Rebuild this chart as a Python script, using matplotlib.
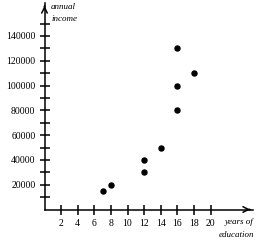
import matplotlib.pyplot as plt

years = [7, 8, 12, 12, 14, 16, 16, 16, 18]
income = [15000, 20000, 30000, 40000, 50000, 80000, 100000, 130000, 110000]
x_ticks = [2, 4, 6, 8, 10, 12, 14, 16, 18, 20]
y_major = [20000, 40000, 60000, 80000, 100000, 120000, 140000]
y_minor = [10000, 30000, 50000, 70000, 90000, 110000, 130000, 150000]

plt.rcParams['font.family'] = 'Liberation Serif'

fig = plt.figure(figsize=(2.56, 2.5), dpi=100)
ax = fig.add_axes([44.5 / 256, 40.5 / 250, (253 - 44.5) / 256, (209.5 - 3) / 250])

ax.scatter(years, income, s=13, color='black', zorder=3)

ax.set_xlim(0, (253 - 44.5) / 8.3)
ax.set_ylim(0, (209.5 - 3) / 12.4 * 10000)

for s in ['top', 'right']:
    ax.spines[s].set_visible(False)
for s in ['left', 'bottom']:
    ax.spines[s].set_linewidth(1.1)

ax.set_xticks(x_ticks)
ax.set_xticklabels([str(v) for v in x_ticks])
ax.set_yticks(y_major)
ax.set_yticklabels([str(v) for v in y_major])
ax.set_yticks(y_minor, minor=True)
ax.tick_params(axis='both', which='both', direction='inout', length=7, width=1.1,
               labelsize=7, pad=3)

# arrow heads on the axes
ax.annotate('', xy=(0, 1.0), xytext=(0, 0.97), xycoords='axes fraction',
            arrowprops=dict(arrowstyle='->', lw=1.1, color='black'))
ax.annotate('', xy=(1.0, 0), xytext=(0.97, 0), xycoords='axes fraction',
            arrowprops=dict(arrowstyle='->', lw=1.1, color='black'))

fig.text(51 / 256, 1 - 7 / 250, 'annual', fontsize=6.5, style='italic', va='center')
fig.text(51 / 256, 1 - 19 / 250, 'income', fontsize=6.5, style='italic', va='center')
fig.text(254 / 256, 1 - 222 / 250, 'years of', fontsize=6.5, style='italic',
         va='center', ha='right')
fig.text(254 / 256, 1 - 235 / 250, 'education', fontsize=6.5, style='italic',
         va='center', ha='right')

fig.savefig('out.png', dpi=100)
